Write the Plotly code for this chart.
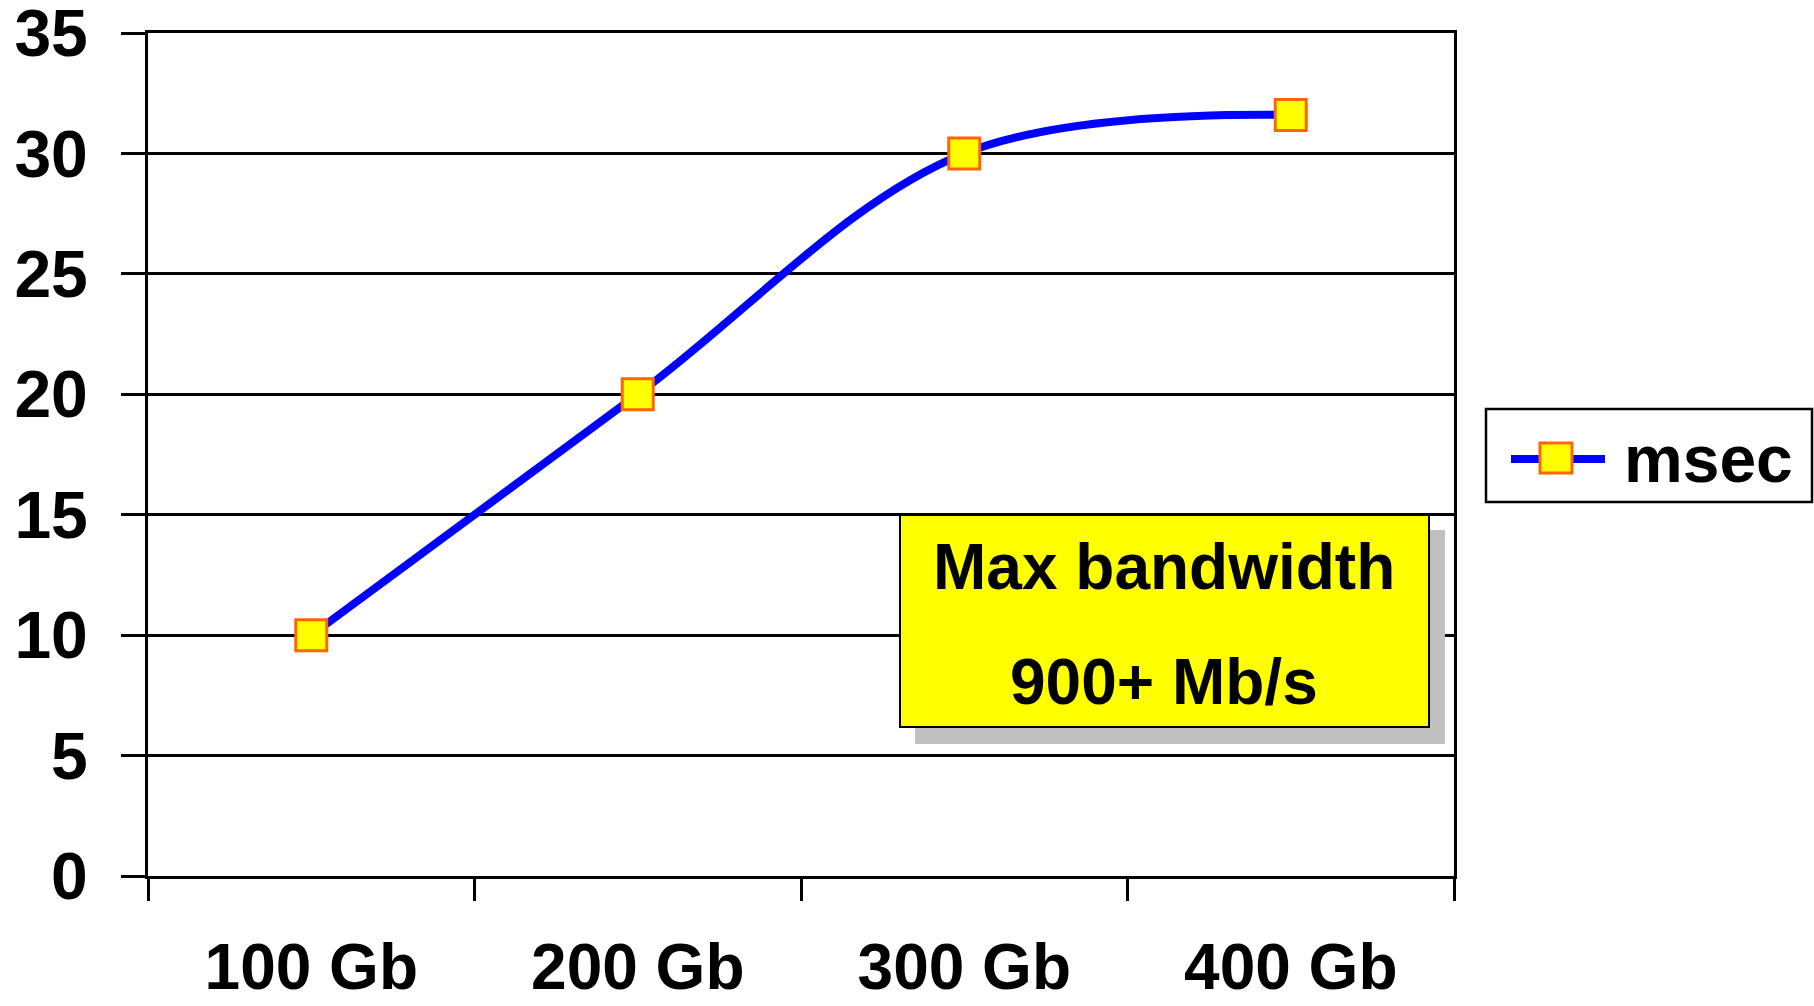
import plotly.graph_objects as go

# Latency (msec) measured for each data volume
categories = ["100 Gb", "200 Gb", "300 Gb", "400 Gb"]
msec = [10, 20, 30, 31.6]
y_ticks = [0, 5, 10, 15, 20, 25, 30, 35]
series_name = "msec"
note_lines = ["Max bandwidth", "900+ Mb/s"]

FONT = "Liberation Sans, Arial, sans-serif"
W, H = 1814, 1006
L, R, T, B = 148, 360, 33, 130
PW, PH = W - L - R, H - T - B


def px(x):
    return (x - L) / PW


def py(y):
    return (H - B - y) / PH


fig = go.Figure()
fig.add_trace(go.Scatter(
    x=categories, y=msec, name=series_name, mode="lines+markers",
    line=dict(color="#0000FF", width=8, shape="spline", smoothing=1.0),
    marker=dict(symbol="square", size=31, color="#FFFF00",
                line=dict(color="#FF6600", width=3)),
    showlegend=False,
    cliponaxis=False,
))

shapes = []
annotations = []

# Callout box with drop shadow
shapes.append(dict(type="rect", xref="paper", yref="paper",
                   x0=px(915), x1=px(1445), y0=py(744), y1=py(530),
                   fillcolor="#C0C0C0", line=dict(width=0)))
shapes.append(dict(type="rect", xref="paper", yref="paper",
                   x0=px(900), x1=px(1429), y0=py(727), y1=py(515),
                   fillcolor="#FFFF00", line=dict(color="black", width=2)))
for txt, yc in zip(note_lines, [567, 682]):
    annotations.append(dict(text=f"<b>{txt}</b>", xref="paper", yref="paper",
                            x=px(1164), y=py(yc), xanchor="center", yanchor="middle",
                            showarrow=False,
                            font=dict(family=FONT, size=64, color="black")))

# Legend box
shapes.append(dict(type="rect", xref="paper", yref="paper",
                   x0=px(1486), x1=px(1812), y0=py(502), y1=py(409),
                   fillcolor="white", line=dict(color="black", width=2.5)))
shapes.append(dict(type="line", xref="paper", yref="paper",
                   x0=px(1511), x1=px(1605), y0=py(459), y1=py(459),
                   line=dict(color="#0000FF", width=8)))
shapes.append(dict(type="rect", xref="paper", yref="paper",
                   x0=px(1540), x1=px(1572), y0=py(473), y1=py(443),
                   fillcolor="#FFFF00", line=dict(color="#FF6600", width=3)))
annotations.append(dict(text=f"<b>{series_name}</b>", xref="paper", yref="paper",
                        x=px(1622), y=py(459), xanchor="left", yanchor="middle",
                        showarrow=False,
                        font=dict(family=FONT, size=66, color="black")))

fig.update_layout(
    width=W, height=H,
    margin=dict(l=L, r=R, t=T, b=B, pad=0, autoexpand=False),
    paper_bgcolor="white", plot_bgcolor="white",
    font=dict(family=FONT, color="black"),
    shapes=shapes, annotations=annotations,
    showlegend=False,
)
fig.update_xaxes(
    type="category", range=[-0.5, 3.5], automargin=False,
    showline=True, mirror=True, linecolor="black", linewidth=3,
    showgrid=False, zeroline=False,
    ticks="outside", tickson="boundaries", ticklen=22, tickwidth=3, tickcolor="black",
    tickfont=dict(family=FONT, size=64, color="black", weight="bold"),
    ticklabelstandoff=33, ticklabeloverflow="allow",
)
fig.update_yaxes(
    range=[0, 35], tickvals=y_ticks, automargin=False,
    showline=True, mirror=True, linecolor="black", linewidth=3,
    showgrid=True, gridcolor="black", gridwidth=3, zeroline=False,
    ticks="outside", ticklen=24, tickwidth=3, tickcolor="black",
    tickfont=dict(family=FONT, size=66, color="black", weight="bold"),
    ticklabelstandoff=20, ticklabeloverflow="allow",
)

fig.write_html("out.html")
